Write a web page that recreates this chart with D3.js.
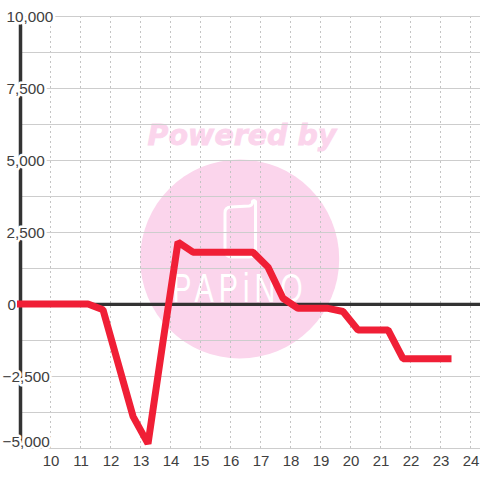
<!DOCTYPE html>
<html><head><meta charset="utf-8">
<style>html,body{margin:0;padding:0;background:#fff}svg{display:block}</style>
<script src="https://cdn.jsdelivr.net/npm/d3@7/dist/d3.min.js"></script></head>
<body><svg id="c" width="480" height="480"></svg>
<script>
const hours = [9,9.75,10.25,10.75,11.25,11.75,12.25,12.75,13.25,13.75,14.25,14.75,15.25,15.75,16.25,16.75,17.25,17.75,18.25,18.75,19.25,19.75,20.25,20.75,21.25,21.75,22.25,22.75,23.25];
const values = [0,0,0,0,0,-200,-2050,-3900,-4850,-1300,2150,1800,1800,1800,1800,1800,1280,200,-150,-150,-150,-260,-900,-900,-900,-1900,-1900,-1900,-1900];
const xTicks = [10,11,12,13,14,15,16,17,18,19,20,21,22,23,24];
const yMajor = [10000,7500,5000,2500,0,-2500,-5000];
const yGrid = [10000,8750,7500,6250,5000,3750,2500,1250,-1250,-2500,-3750,-5000];

const x = d3.scaleLinear().domain([10,24]).range([50.5,470.5]);
const y = d3.scaleLinear().domain([10000,-5000]).range([16,448]);
const svg = d3.select('#c');
const FONT = '"Liberation Sans", Arial, sans-serif';
const PINK = '#fbd5ec';

// watermark
const wm = svg.append('g');
wm.append('text').attr('x',242).attr('y',145).attr('text-anchor','middle')
  .attr('font-family','"DejaVu Sans"').attr('font-weight','bold').attr('font-style','italic')
  .attr('font-size',28.5).attr('fill',PINK).attr('stroke',PINK).attr('stroke-width',0.8).text('Powered by');
wm.append('circle').attr('cx',239.7).attr('cy',259).attr('r',99.5).attr('fill',PINK);
wm.append('path').attr('d','M231,207 L249,206 Q252,205.500 252.500,203 L252.500,201.500 Q254,199.500 255.500,201.500 L255.500,250 Q255.500,257 249,257 L232,257 Q225,257 225,250 L225,213 Q225,207 231,207 Z')
  .attr('fill','none').attr('stroke','#fff').attr('stroke-width',3).attr('stroke-linejoin','round');
wm.append('text').attr('transform','translate(240,302) scale(0.72,1)').attr('text-anchor','middle')
  .attr('font-family','"Liberation Sans"').attr('font-size',40).attr('letter-spacing',7)
  .attr('fill','#fff').attr('stroke',PINK).attr('stroke-width',0.6).attr('paint-order','stroke').text('PAPiNO');

// grid
const grid = svg.append('g');
grid.selectAll('line.v').data(xTicks).join('line').attr('class','v')
  .attr('x1',d=>x(d)).attr('x2',d=>x(d)).attr('y1',16).attr('y2',448)
  .attr('stroke','#c4c4c4').attr('stroke-width',1).attr('stroke-dasharray','2,3');
grid.selectAll('line.h').data(yGrid).join('line').attr('class','h')
  .attr('x1',20).attr('x2',480).attr('y1',d=>y(d)+0.5).attr('y2',d=>y(d)+0.5)
  .attr('stroke','#cdcdcd').attr('stroke-width',1.2);

// zero line and axis line
svg.append('line').attr('x1',20).attr('x2',480).attr('y1',y(0)+0.3).attr('y2',y(0)+0.3).attr('stroke','#333').attr('stroke-width',3.2);
svg.append('line').attr('x1',20.5).attr('x2',20.5).attr('y1',16).attr('y2',448).attr('stroke','#333').attr('stroke-width',3.5);

// y axis labels
const fmt = d3.format(',');
const yAxis = d3.axisLeft(y).tickValues(yMajor).tickSize(0).tickFormat(fmt);
const yg = svg.append('g').call(yAxis);
yg.select('.domain').remove();
yg.selectAll('text')
  .attr('text-anchor','start')
  .attr('x',d=>d<0?2.5:(d===0?7.5:6.5))
  .attr('y',d=>d===-5000?-6.5:0.5)
  .attr('dy','0.35em')
  .attr('font-family',FONT).attr('font-size',15.3).attr('fill','#404040')
  .attr('stroke','#fff').attr('stroke-width',5).attr('paint-order','stroke').attr('stroke-linejoin','round');

// x axis labels
const xAxis = d3.axisBottom(x).tickValues(xTicks).tickSize(0).tickFormat(d3.format('d'));
const xg = svg.append('g').attr('transform','translate(0,448)').call(xAxis);
xg.select('.domain').remove();
xg.selectAll('text').attr('y',7).attr('font-family',FONT).attr('font-size',15).attr('fill','#404040');

// series
const line = d3.line().x((d,i)=>x(hours[i])).y(d=>y(d));
svg.append('path').attr('d',line(values)).attr('fill','none')
  .attr('stroke','#f01f36').attr('stroke-width',7)
  .attr('stroke-linejoin','bevel').attr('stroke-linecap','square');
</script></body></html>
